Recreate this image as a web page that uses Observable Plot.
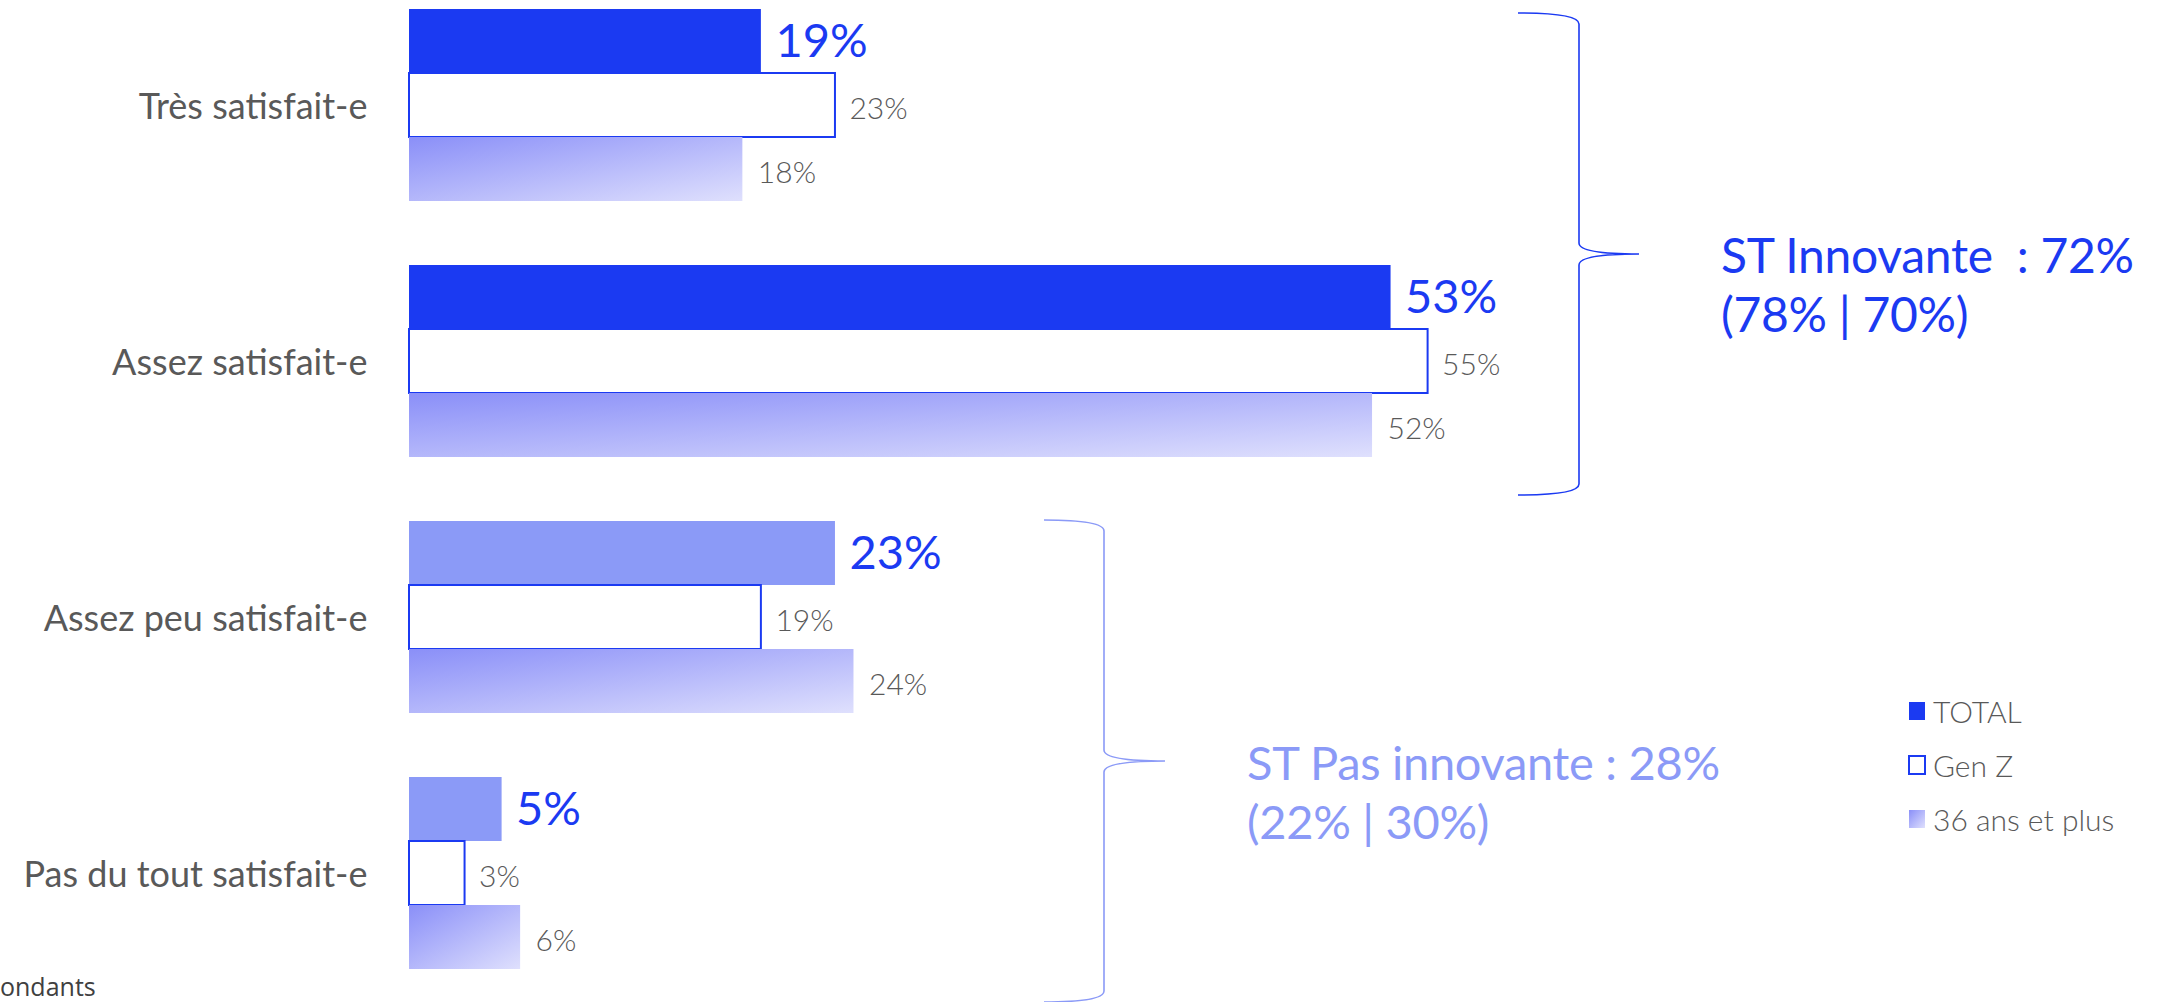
<!DOCTYPE html>
<html>
<head>
<meta charset="utf-8">
<script src="https://cdn.jsdelivr.net/npm/d3@7"></script>
<script src="https://cdn.jsdelivr.net/npm/@observablehq/plot@0.6"></script>
<style>
  html, body { margin: 0; padding: 0; background: #ffffff; }
  #chart { position: relative; width: 2162px; height: 1002px; overflow: hidden; }
</style>
</head>
<body>
<div id="chart"></div>
<script>
// ---- Data ----
const categories = ["Très satisfait-e", "Assez satisfait-e", "Assez peu satisfait-e", "Pas du tout satisfait-e"];
const groupOf = ["ST Innovante", "ST Innovante", "ST Pas innovante", "ST Pas innovante"];
const seriesNames = ["TOTAL", "Gen Z", "36 ans et plus"];
const totalValues = [19, 53, 23, 5];
const genZValues = [23, 55, 19, 3];
const plus36Values = [18, 52, 24, 6];
const subtotalLabels = ["ST Innovante  : ", "ST Pas innovante : "];
const subtotalTotal = [72, 28];
const subtotalGenZ = [78, 22];
const subtotalPlus36 = [70, 30];
const footerText = "ondants";

const rows = categories.map((c, i) => ({
  category: c, group: groupOf[i],
  total: totalValues[i], genZ: genZValues[i], plus36: plus36Values[i]
}));

// ---- Layout ----
const W = 2162, H = 1002;
const mL = 409, pxPerPct = 18.52, xMax = 60;
const mR = W - mL - xMax * pxPerPct;
const DARK = "#1b3af2", LIGHT = "#8b9af7", GREY = "#595959";

const chart = Plot.plot({
  width: W, height: H,
  marginLeft: mL, marginRight: mR, marginTop: 9, marginBottom: 33,
  style: { fontFamily: "Lato, 'Open Sans', sans-serif", background: "white", overflow: "visible" },
  x: { domain: [0, xMax], axis: null },
  y: { domain: categories, paddingInner: 0.25, paddingOuter: 0, label: null },
  color: { domain: ["ST Innovante", "ST Pas innovante"], range: [DARK, LIGHT] },
  marks: [
    Plot.axisY({ tickSize: 0, tickPadding: 42, fontSize: 36, color: GREY, label: null, dy: 1.5 }),
    Plot.barX(rows, { x: "total", y: "category", fill: "group", insetBottom: 128 }),
    Plot.barX(rows, { x: "genZ", y: "category", fill: "white", stroke: DARK, strokeWidth: 2, insetTop: 64, insetBottom: 64 }),
    Plot.barX(rows, { x: "plus36", y: "category", fill: "url(#grad36)", insetTop: 128 }),
    Plot.text(rows, { x: "total", y: "category", text: d => d.total + "%", textAnchor: "start", dx: 14, dy: -64, fontSize: 47, fill: DARK }),
    Plot.text(rows, { x: "genZ", y: "category", text: d => d.genZ + "%", textAnchor: "start", dx: 14, dy: 3.5, fontSize: 30, fontWeight: 300, fill: GREY }),
    Plot.text(rows, { x: "plus36", y: "category", text: d => d.plus36 + "%", textAnchor: "start", dx: 15, dy: 68, fontSize: 30, fontWeight: 300, fill: GREY })
  ]
});

document.getElementById("chart").appendChild(chart);

const svg = d3.select(chart);
const defs = svg.insert("defs", ":first-child");
["grad36", "gradLeg"].forEach(id => {
  const g = defs.append("linearGradient").attr("id", id)
    .attr("x1", 0).attr("y1", 0).attr("x2", 1).attr("y2", 1);
  g.append("stop").attr("offset", "0%").attr("stop-color", "#8a8ff8");
  g.append("stop").attr("offset", "100%").attr("stop-color", "#dfe0fd");
});

// ---- Braces and subtotal annotations ----
const yS = chart.scale("y");
const bw = yS.bandwidth;
const yTop = c => yS.apply(c);

function brace(x0, xv, xp, top, bottom) {
  const mid = (top + bottom) / 2;
  return `M${x0},${top} C${xv - 18},${top} ${xv},${top + 4} ${xv},${top + 11}
          L${xv},${mid - 11} C${xv},${mid - 4} ${xv + 20},${mid} ${xp},${mid}
          C${xv + 20},${mid} ${xv},${mid + 4} ${xv},${mid + 11}
          L${xv},${bottom - 11} C${xv},${bottom - 4} ${xv - 18},${bottom} ${x0},${bottom}`;
}

const annots = [
  { top: yTop(categories[0]) + 4, bottom: yTop(categories[1]) + bw + 38, x0: 1518, xv: 1579, xp: 1639, color: DARK,
    tx: 1721, fs: 48, ls: -0.3 },
  { top: yTop(categories[2]) - 1, bottom: yTop(categories[3]) + bw + 33, x0: 1044, xv: 1104, xp: 1165, color: LIGHT,
    tx: 1247, fs: 47, ls: -0.3 }
];
annots.forEach((a, i) => {
  svg.append("path").attr("d", brace(a.x0, a.xv, a.xp, a.top, a.bottom))
    .attr("fill", "none").attr("stroke", a.color).attr("stroke-width", 1.6);
  const mid = (a.top + a.bottom) / 2;
  const t = svg.append("text").attr("font-family", "Lato, sans-serif").attr("font-size", a.fs)
    .attr("text-anchor", "start").attr("letter-spacing", a.ls)
    .attr("fill", a.color).style("white-space", "pre");
  t.append("tspan").attr("x", a.tx).attr("y", mid + 19).text(subtotalLabels[i] + subtotalTotal[i] + "%");
  t.append("tspan").attr("x", a.tx).attr("y", mid + 78).text("(" + subtotalGenZ[i] + "% | " + subtotalPlus36[i] + "%)");
});

// ---- Legend ----
const leg = svg.append("g").attr("font-family", "Lato, sans-serif").attr("font-size", 30)
  .attr("font-weight", 300).attr("fill", GREY).attr("text-anchor", "start");
const legFills = [DARK, "white", "url(#gradLeg)"];
seriesNames.forEach((s, i) => {
  const y = 702 + i * 54;
  leg.append("rect").attr("x", 1909).attr("y", y).attr("width", 16).attr("height", 18)
    .attr("fill", legFills[i])
    .attr("stroke", i === 1 ? DARK : "none").attr("stroke-width", 2);
  leg.append("text").attr("x", 1933).attr("y", y + 21).text(s);
});

// ---- Footer (cut-off base note) ----
svg.append("text").attr("x", 0).attr("y", 996).attr("font-family", "'Open Sans', sans-serif")
  .attr("text-anchor", "start")
  .attr("font-size", 25).attr("fill", "#404040").text(footerText);
</script>
</body>
</html>
